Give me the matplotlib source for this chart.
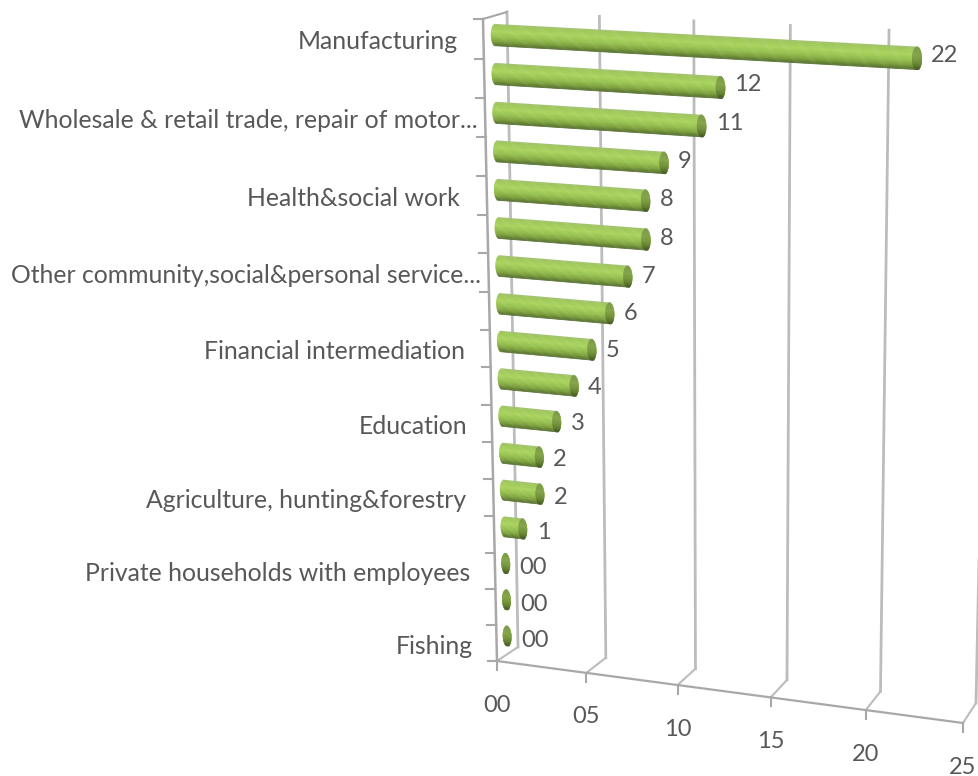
import numpy as np
import matplotlib
matplotlib.use("Agg")
import matplotlib.pyplot as plt
import matplotlib.transforms as mtransforms

plt.rcParams['font.family'] = ['Lato', 'DejaVu Sans']

# categories run top to bottom, empty strings are the ones the axis skips
categories = ["Manufacturing", "", "Wholesale & retail trade, repair of motor...", "",
              "Health&social work", "", "Other community,social&personal service...", "",
              "Financial intermediation", "", "Education", "",
              "Agriculture, hunting&forestry", "", "Private households with employees", "",
              "Fishing"]
values = [22, 12, 11, 9, 8, 8, 7, 6, 5, 4, 3, 2, 2, 1, 0, 0, 0]
x_ticks = [0, 5, 10, 15, 20, 25]
x_tick_labels = ["00", "05", "10", "15", "20", "25"]

# right edge of each category label, in pixels
label_right = [458, 0, 478, 0, 460, 0, 481, 0, 465, 0, 467, 0, 466, 0, 470, 0, 473]

n = len(categories)
vmax = 25
ytop, ybot = -0.5, n - 0.5


class PlaneProjection(mtransforms.Transform):
    # perspective map from (value, category) to pixel position
    input_dims = 2
    output_dims = 2

    def __init__(self, tl, tr, bl, br):
        super().__init__()
        src = [(0, ytop), (vmax, ytop), (0, ybot), (vmax, ybot)]
        dst = [tl, tr, bl, br]
        A = []
        b = []
        for (x, y), (u, v) in zip(src, dst):
            A.append([x, y, 1, 0, 0, 0, -u * x, -u * y])
            A.append([0, 0, 0, x, y, 1, -v * x, -v * y])
            b += [u, v]
        h = np.linalg.solve(np.array(A, float), np.array(b, float))
        self.h = np.append(h, 1).reshape(3, 3)

    def transform_non_affine(self, values):
        pts = np.asarray(values, float)
        p = np.column_stack([pts, np.ones(len(pts))]) @ self.h.T
        return p[:, :2] / p[:, 2:3]


front = PlaneProjection((483, 19), (975, 48), (497, 661), (963, 723))
back = PlaneProjection((507, 12), (990, 35), (518, 647), (976, 703))
mid = PlaneProjection((495, 15.5), (978, 41), (507.5, 654), (970, 713))

fig = plt.figure(figsize=(9.79, 7.76), dpi=100)
ax = fig.add_axes([0, 0, 1, 1])
ax.set_xlim(0, 979)
ax.set_ylim(776, 0)
ax.axis("off")

grid_col = "#bcbcbc"
axis_col = "#a8a8a8"
text_col = "#585858"

# back wall gridlines and floor
for v in x_ticks:
    ax.plot([v, v], [ytop, ybot], color=grid_col, lw=2, transform=back + ax.transData, zorder=1)
    p0 = front.transform((v, ybot))
    p1 = back.transform((v, ybot))
    ax.plot([p0[0], p1[0]], [p0[1], p1[1]], color=grid_col, lw=1.5, zorder=1)
    ax.plot([p0[0], p0[0]], [p0[1], p0[1] + 9], color=axis_col, lw=1.5, zorder=1)

ax.plot([0, vmax], [ybot, ybot], color=axis_col, lw=1.6, transform=front + ax.transData, zorder=1)
ax.plot([0, 0], [ytop, ybot], color=axis_col, lw=1.8, transform=front + ax.transData, zorder=1)
p0 = front.transform((0, ytop))
p1 = back.transform((0, ytop))
ax.plot([p0[0], p1[0]], [p0[1], p1[1]], color=axis_col, lw=1.5, zorder=1)

for edge in np.arange(ytop, ybot + 1):
    p = front.transform((0, edge))
    ax.plot([p[0] - 9, p[0]], [p[1], p[1]], color=axis_col, lw=1.5, zorder=1)

# shading across the cylinder, -1 is the top edge and 1 the bottom edge
shade_pos = [-1.0, -0.8, -0.3, 0.2, 0.6, 0.85, 1.0]
shade_rgb = np.array([[165, 195, 120], [160, 200, 92], [170, 212, 95], [150, 192, 80],
                      [125, 160, 62], [95, 125, 50], [100, 120, 70]]) / 255

half = 0.285   # half thickness, in categories
cap = 0.25     # end cap half width, in value units
steps = 24
tt = np.linspace(-1, 1, steps + 1)
dt = tt[1] - tt[0]

bar_trans = mid + ax.transData
for i, val in enumerate(values):
    for k in range(steps):
        t0 = tt[k]
        tc = t0 + dt / 2
        bulge = cap * np.sqrt(1 - tc ** 2)
        col = np.array([np.interp(tc, shade_pos, shade_rgb[:, c]) for c in range(3)])
        # strips overlap the next one a little so no seams show between them
        h = min(1.6 * dt, 1 - t0) * half
        ax.barh(i + t0 * half, val + 2 * bulge, left=-bulge, height=h,
                align="edge", color=col, linewidth=0, transform=bar_trans, zorder=3)
    # darker end of the cylinder
    for k in range(steps):
        t0 = tt[k]
        tc = t0 + dt / 2
        bulge = cap * np.sqrt(1 - tc ** 2)
        col = np.array([np.interp(tc, shade_pos, shade_rgb[:, c]) for c in range(3)]) * 0.78
        h = min(1.6 * dt, 1 - t0) * half
        ax.barh(i + t0 * half, 2 * bulge, left=val - bulge, height=h,
                align="edge", color=col, linewidth=0, transform=bar_trans, zorder=4)

    p = mid.transform((val, i))
    txt = "00" if val == 0 else str(val)
    ax.text(p[0] + 14, p[1] - 3 + 0.5 * i, txt, ha="left", va="center", fontsize=17, color=text_col, zorder=5)

for i, name in enumerate(categories):
    if name:
        p = front.transform((0, i))
        ax.text(label_right[i], p[1] + 3, name, ha="right", va="center", fontsize=17.8, color=text_col)

for v, lab in zip(x_ticks, x_tick_labels):
    p = front.transform((v, ybot))
    ax.text(p[0], p[1] + 44, lab, ha="center", va="center", fontsize=17, color=text_col)

fig.savefig("out.png", dpi=100)
